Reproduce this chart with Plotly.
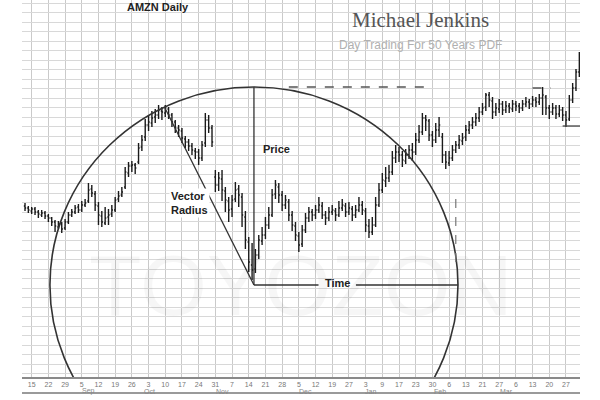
import plotly.graph_objects as go

# ---- data (trading-day index; price units arbitrary) ----
opens = [171,169,166,168,165,162,164,161,159,155,
         150,153,149,155,162,165,170,167,172,176,
         188,183,171,161,154,160,163,167,178,182,
         190,204,211,212,215,230,240,252,254,260,
         262,266,264,268,262,255,249,246,238,235,
         231,226,225,219,234,257,249,200,192,198,
         186,176,168,178,188,180,160,135,112,108,
         122,136,142,152,162,183,190,182,172,175,
         162,151,141,133,147,159,165,162,167,171,
         162,159,165,166,162,169,171,165,168,162,
         167,172,166,151,145,152,172,187,196,199,
         205,219,225,222,216,222,227,225,237,245,
         259,256,242,237,247,240,222,214,219,227,
         232,236,240,247,252,255,259,265,270,282,
         276,265,268,273,267,271,268,273,271,269,
         273,275,273,277,275,279,280,269,265,269,
         263,267,262,258,277,289,305]
highs = [174,171,170,170,167,167,166,163,160,157,
         156,155,158,165,168,172,173,176,178,194,
         192,186,175,166,170,168,172,180,186,190,
         210,215,216,214,234,242,258,262,266,268,
         272,270,272,270,264,257,252,249,241,238,
         234,229,228,236,264,262,252,207,205,207,
         190,180,182,195,192,184,166,140,134,128,
         142,150,160,170,188,197,194,186,182,178,
         166,155,145,152,164,170,168,172,180,175,
         166,170,172,169,176,178,174,175,171,172,
         180,176,169,158,160,180,194,204,210,212,
         226,232,230,226,228,232,234,244,252,264,
         262,258,246,254,260,244,226,226,232,236,
         242,244,252,256,260,264,270,274,284,285,
         280,274,278,276,276,274,277,276,274,277,
         280,278,281,280,283,290,282,272,274,272,
         272,270,266,282,294,308,325]
lows = [166,164,163,162,159,160,158,155,151,145,
        148,144,147,153,160,163,164,165,170,174,
        180,166,152,150,152,152,160,165,175,180,
        188,200,205,203,213,226,236,246,250,254,
        258,257,260,258,250,244,240,234,229,226,
        222,218,212,216,230,244,230,185,186,176,
        165,155,160,175,170,150,128,105,97,104,
        118,132,138,148,160,178,174,166,168,156,
        146,136,125,130,144,155,156,158,164,158,
        152,156,162,156,160,166,160,162,156,159,
        165,162,145,139,142,150,170,184,190,195,
        202,214,215,210,213,218,216,222,234,242,
        246,236,230,234,240,214,208,211,216,224,
        228,232,236,243,248,251,255,262,266,270,
        258,261,264,262,264,264,265,266,264,266,
        270,268,270,270,272,262,262,258,262,258,
        260,256,250,256,274,286,300]
closes = [169,167,168,165,163,164,161,159,155,151,
          153,148,155,162,165,169,167,172,174,187,
          184,172,162,155,159,162,167,177,181,185,
          205,211,212,209,229,237,252,255,259,262,
          267,265,269,262,255,249,247,239,235,231,
          227,225,219,232,257,249,235,192,199,187,
          177,167,177,187,182,162,137,115,107,122,
          137,142,152,162,182,192,182,172,177,162,
          152,142,132,147,159,165,162,167,172,162,
          159,165,167,162,169,172,165,169,162,167,
          172,167,152,145,152,172,187,197,199,205,
          219,225,222,217,222,227,225,237,245,259,
          257,242,237,247,252,222,215,219,227,232,
          237,239,247,252,255,259,265,269,282,277,
          265,269,273,267,271,269,273,271,269,273,
          275,273,277,275,279,282,269,265,269,263,
          267,262,257,277,289,305,317]
days = list(range(len(closes)))

tick_labels = ["15","22","29","5","12","19","26","3","10","17","24","31","7",
               "14","21","28","5","12","19","27","3","9","17","23","30","6",
               "13","21","27","6","13","20","27"]
tick_days = [2 + 5 * k for k in range(len(tick_labels))]

months = ["Sep", "Oct", "Nov", "Dec", "Jan", "Feb", "Mar"]
month_days = [18.9, 37.4, 59.0, 84.1, 103.6, 124.3, 144.3]

# circle / vector geometry (in data units)
center_day, center_price = 68.56, 92
radius_days, radius_price = 61.1, 198
peak_day, peak_price = 41.9, 269
time_label_day = 93.5
time_gap_half = 5.6

fig = go.Figure()
fig.add_trace(go.Ohlc(
    x=days, open=opens, high=highs, low=lows, close=closes,
    increasing=dict(line=dict(color="#1a1a1a", width=1.4)),
    decreasing=dict(line=dict(color="#1a1a1a", width=1.4)),
    tickwidth=0.35, showlegend=False, hoverinfo="skip"))

thin = dict(color="#333", width=1.3)
shapes = [
    dict(type="circle", xref="x", yref="y",
         x0=center_day - radius_days, x1=center_day + radius_days,
         y0=center_price - radius_price, y1=center_price + radius_price,
         line=dict(color="#333333", width=1.6)),
    dict(type="line", xref="x", yref="y", x0=center_day, x1=center_day,
         y0=center_price, y1=center_price + radius_price, line=thin),
    dict(type="line", xref="x", yref="y", x0=center_day, x1=time_label_day - time_gap_half,
         y0=center_price, y1=center_price, line=thin),
    dict(type="line", xref="x", yref="y", x0=time_label_day + time_gap_half,
         x1=center_day + radius_days, y0=center_price, y1=center_price, line=thin),
    dict(type="line", xref="x", yref="y", x0=peak_day, x1=center_day,
         y0=peak_price, y1=center_price, line=thin),
    dict(type="line", xref="x", yref="y", x0=79, x1=121, y0=290, y1=290,
         line=dict(color="#555", width=1.3, dash="dash")),
    dict(type="line", xref="x", yref="y", x0=152, x1=157.5, y0=289, y1=289,
         line=dict(color="#555", width=1.3, dash="dash")),
    dict(type="line", xref="x", yref="y", x0=161, x1=166.2, y0=251, y1=251,
         line=dict(color="#444", width=1.3)),
    dict(type="line", xref="x", yref="y", x0=129, x1=129, y0=115, y1=187,
         line=dict(color="#777", width=1.2, dash="dash")),
    dict(type="line", xref="paper", yref="paper", x0=0, x1=1, y0=-16/377, y1=-16/377,
         line=dict(color="#9a9a9a", width=2)),
]

annotations = [
    dict(text="TOYOZON", x=0.5, y=92, xref="paper", yref="y", showarrow=False,
         font=dict(family="Liberation Sans", size=86, color="rgba(0,0,0,0.035)"),
         xanchor="center", yanchor="middle"),
    dict(text="<b>AMZN Daily</b>", x=158, y=393, xref="paper", yref="paper",
         showarrow=False, font=dict(family="Liberation Sans", size=11, color="#222"),
         xanchor="center", yanchor="middle"),
    dict(text="<b>Price</b>", x=center_day + 2.0, y=228, xref="x", yref="y",
         showarrow=False, font=dict(family="Liberation Sans", size=11, color="#222"),
         xanchor="left", yanchor="middle"),
    dict(text="<b>Vector<br>Radius</b>", x=49.2, y=174, xref="x", yref="y",
         showarrow=False, font=dict(family="Liberation Sans", size=11, color="#222"),
         xanchor="center", yanchor="middle", bgcolor="white", align="left"),
    dict(text="<b>Time</b>", x=time_label_day, y=94, xref="x", yref="y",
         showarrow=False, font=dict(family="Liberation Sans", size=11, color="#222"),
         xanchor="center", yanchor="middle"),
    dict(text="Michael Jenkins", x=420, y=380, xref="paper", yref="paper",
         showarrow=False, font=dict(family="Liberation Serif", size=21, color="#555"),
         xanchor="center", yanchor="middle"),
    dict(text="Day Trading For 50 Years PDF", x=420, y=355, xref="paper", yref="paper",
         showarrow=False, font=dict(family="Liberation Sans", size=12, color="#b0b0b0"),
         xanchor="center", yanchor="middle"),
]
# convert pixel-positioned paper annotations
for a in annotations:
    if a["xref"] == "paper" and a["x"] > 1:
        a["x"] = (a["x"] - 22) / 558
    if a["yref"] == "paper" and a["y"] > 1:
        a["y"] = (a["y"] - 23) / 377

for m, d in zip(months, month_days):
    annotations.append(dict(text=m, x=d, y=-14/377, xref="x", yref="paper",
                            showarrow=False, xanchor="center", yanchor="middle",
                            font=dict(family="Liberation Sans", size=7, color="#888")))

fig.update_layout(
    width=600, height=400,
    margin=dict(l=22, r=20, t=0, b=23),
    paper_bgcolor="white", plot_bgcolor="white",
    shapes=shapes, annotations=annotations,
    xaxis=dict(range=[-0.9, 166.2], tickvals=tick_days, ticktext=tick_labels,
               showgrid=True, gridcolor="#cacaca", gridwidth=1,
               showline=True, linecolor="#8a8a8a", linewidth=2,
               ticks="", tickfont=dict(family="Liberation Sans", size=7, color="#777"),
               zeroline=False, rangeslider=dict(visible=False), fixedrange=True),
    yaxis=dict(range=[0, 377], showticklabels=False, showgrid=True,
               gridcolor="#d8d8d8", gridwidth=1, tick0=3.5, dtick=9.5,
               zeroline=False, ticks="", fixedrange=True),
)

fig.write_html("out.html", config={"displayModeBar": False},
               post_script="document.body.style.margin='0';")
